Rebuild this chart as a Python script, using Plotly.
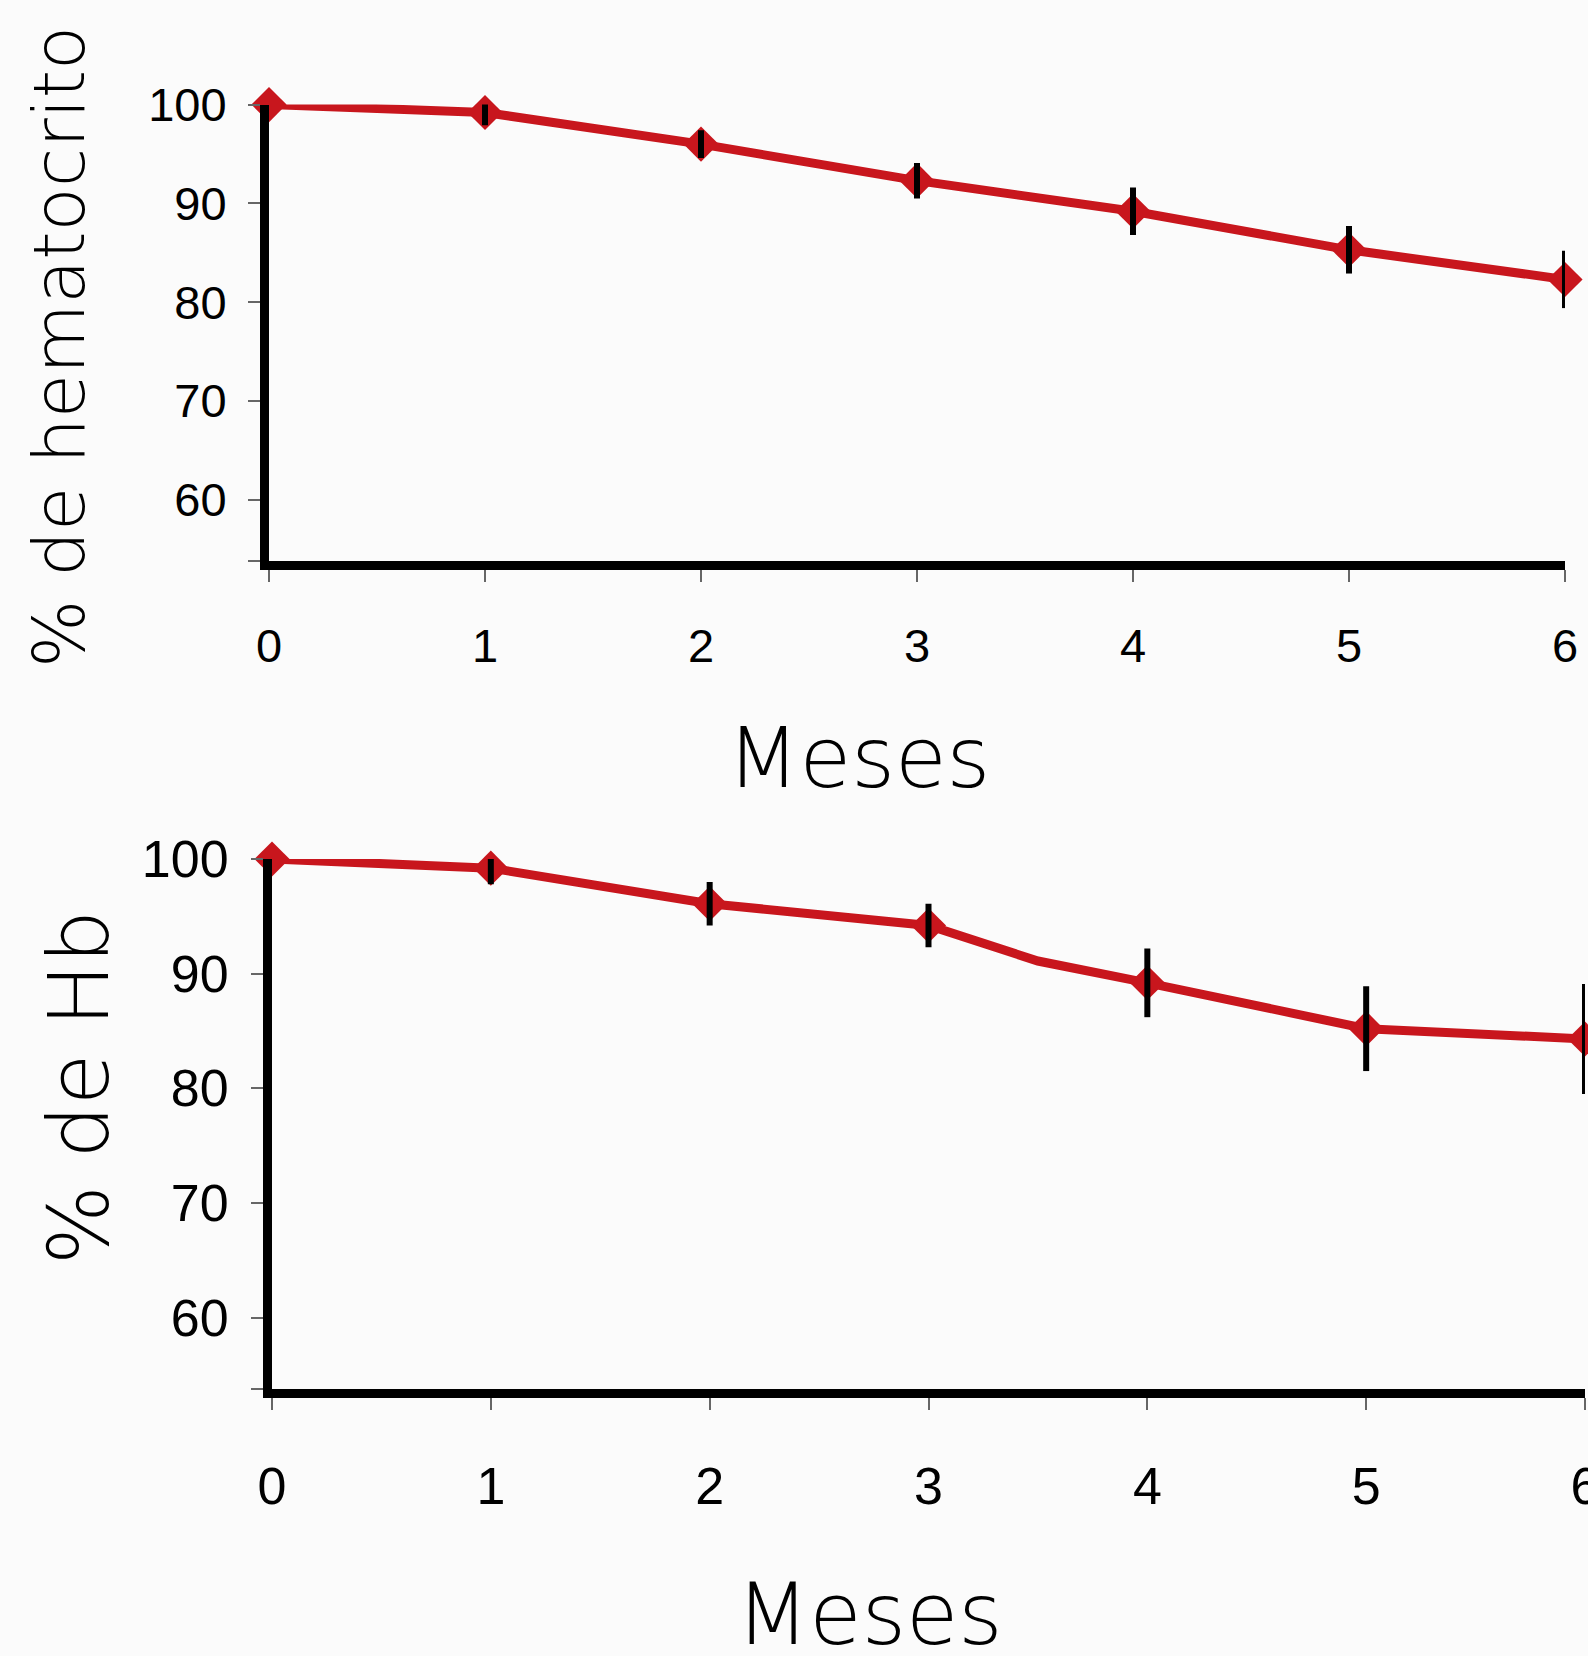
import plotly.graph_objects as go

# ---- data ----
meses = [0, 1, 2, 3, 4, 5, 6]
hematocrito = [100, 99.2, 96.0, 92.3, 89.2, 85.3, 82.3]
hematocrito_err = [0, 1.3, 1.4, 1.8, 2.4, 2.4, 2.9]
hb = [100, 99.2, 96.1, 94.2, 89.2, 85.2, 84.3]
hb_err = [0, 1.4, 1.9, 1.9, 3.0, 3.7, 4.8]
# drawn line of the Hb panel has an extra bend between months 3 and 4
hb_line_x = [0, 1, 2, 3, 3.5, 4, 5, 6]
hb_line_y = [100, 99.2, 96.1, 94.2, 91.1, 89.2, 85.2, 84.3]
y_tickvals = [53.8, 60, 70, 80, 90, 100]
y_ticktext = ["", "60", "70", "80", "90", "100"]
x_ticktext = ["0", "1", "2", "3", "4", "5", "6"]

W, H = 1588, 1656
RED = "#c8161d"
BG = "#fbfbfb"

fig = go.Figure()

def add_panel(xref, yref, lx, ly, mx, my, err):
    fig.add_trace(go.Scatter(x=lx, y=ly, mode="lines", line=dict(color=RED, width=9),
                             xaxis=xref, yaxis=yref, cliponaxis=False, showlegend=False))
    fig.add_trace(go.Scatter(x=mx, y=my, mode="markers",
                             marker=dict(symbol="diamond", size=27, color=RED),
                             xaxis=xref, yaxis=yref, cliponaxis=False, showlegend=False))
    fig.add_trace(go.Scatter(x=mx, y=my, mode="markers",
                             marker=dict(size=1, color="rgba(0,0,0,0)"),
                             error_y=dict(type="data", array=err, visible=True,
                                          color="black", thickness=6, width=0),
                             xaxis=xref, yaxis=yref, cliponaxis=False, showlegend=False))

add_panel("x", "y", meses, hematocrito, meses, hematocrito, hematocrito_err)
add_panel("x2", "y2", hb_line_x, hb_line_y, meses, hb, hb_err)

def fx(px):
    return px / W

def fy(py):
    return 1 - py / H

REG = "Liberation Sans, Arial, sans-serif"

common_x = dict(range=[0, 6], tickvals=meses, ticktext=x_ticktext, showline=True,
                linewidth=9, linecolor="black", ticks="outside", ticklen=12, tickwidth=1.5,
                tickcolor="#666", showgrid=False, zeroline=False, automargin=False,
                ticklabeloverflow="allow")
common_y = dict(range=[53.8, 100], tickvals=y_tickvals, ticktext=y_ticktext, showline=True,
                linewidth=9, linecolor="black", ticks="outside", ticklen=12, tickwidth=1.5,
                tickcolor="#666", showgrid=False, zeroline=False, automargin=False)

fig.update_layout(
    width=W, height=H,
    margin=dict(l=0, r=0, t=0, b=0),
    paper_bgcolor=BG, plot_bgcolor=BG,
    template="none",
    xaxis=dict(domain=[fx(269), fx(1565)], anchor="y",
               tickfont=dict(family=REG, size=47, color="black"),
               ticklabelstandoff=24, **common_x),
    yaxis=dict(domain=[fy(561), fy(104.6)], anchor="x",
               tickfont=dict(family=REG, size=47, color="black"),
               ticklabelstandoff=12, **common_y),
    xaxis2=dict(domain=[fx(272), fx(1585)], anchor="y2",
                tickfont=dict(family=REG, size=52, color="black"),
                ticklabelstandoff=32, **common_x),
    yaxis2=dict(domain=[fy(1388.6), fy(859)], anchor="x2",
                tickfont=dict(family=REG, size=52, color="black"),
                ticklabelstandoff=12, **common_y),
)

TITLE = "DejaVu Sans, Lato, sans-serif"
fig.add_annotation(text="Meses", x=fx(858), y=fy(758), xref="paper", yref="paper",
                   showarrow=False, font=dict(family=TITLE, size=84, color="black", weight=300),
                   xanchor="center", yanchor="middle")
fig.add_annotation(text="Meses", x=fx(869), y=fy(1614), xref="paper", yref="paper",
                   showarrow=False, font=dict(family=TITLE, size=85, color="black", weight=300),
                   xanchor="center", yanchor="middle")
fig.add_annotation(text="% de hematocrito", x=fx(59), y=fy(347), xref="paper", yref="paper",
                   showarrow=False, textangle=-90,
                   font=dict(family=TITLE, size=72, color="black", weight=300),
                   xanchor="center", yanchor="middle")
fig.add_annotation(text="% de Hb", x=fx(79), y=fy(1088), xref="paper", yref="paper",
                   showarrow=False, textangle=-90,
                   font=dict(family=TITLE, size=84, color="black", weight=300),
                   xanchor="center", yanchor="middle")

fig.write_html("out.html", config={"displayModeBar": False},
               post_script="document.body.style.margin='0px';document.body.style.overflow='hidden';")
